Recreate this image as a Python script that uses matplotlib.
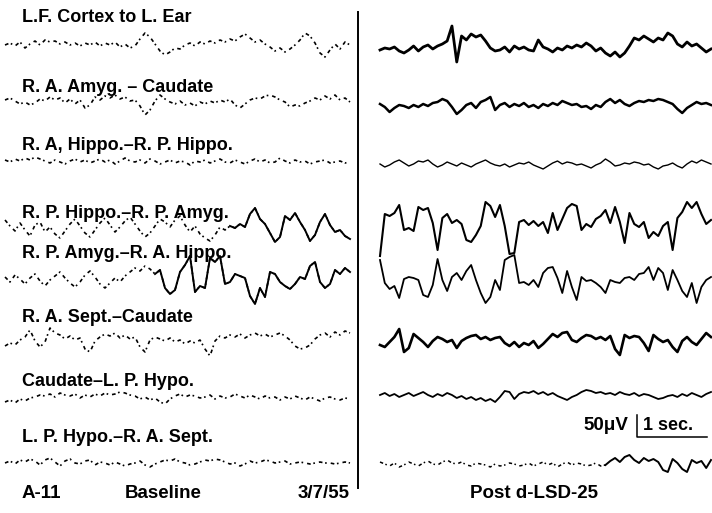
import numpy as np
import matplotlib
matplotlib.use("Agg")
import matplotlib.pyplot as plt

# ---- channel labels ----
channels = [
    "L.F. Cortex to L. Ear",
    "R. A. Amyg. \u2013 Caudate",
    "R. A, Hippo.\u2013R. P. Hippo.",
    "R. P. Hippo.\u2013R. P. Amyg.",
    "R. P. Amyg.\u2013R. A. Hippo.",
    "R. A. Sept.\u2013Caudate",
    "Caudate\u2013L. P. Hypo.",
    "L. P. Hypo.\u2013R. A. Sept.",
]
panel_titles = ["Baseline", "Post d-LSD-25"]
animal = "A-11"
date = "3/7/55"
scale_amp = "50\u03bcV"
scale_time = "1 sec."

# ---- baseline traces (deflection, up positive) ----
base_1 = [0, 2, -1, 3, -3, 1, 4, 0, 5, 3, 4, 1, 3, 0, 2, -1, 2, 0, 3, -1, 2, 0, 3, -2, 1, -3, -1, 6, 12, 8,
          1, -6, -10, -7, -3, -4, 0, 2, -1, 3, 1, 4, 2, 5, 3, 6, 4, 8, 11, 7, 3, 5, 1, -2, -6, -3, -7, -4, 0, 5,
          12, 9, 2, -8, -12, -5, 1, -4, 3, 0]
base_2 = [3, 5, 2, -1, 1, -2, 0, 4, 2, 6, 3, 5, 0, 4, -1, 3, -5, -2, 6, 3, 7, 5, 8, 4, 6, 2, 3, -3, -12, -7,
          2, 8, 4, 1, -1, 2, -2, 0, -3, 1, -1, 2, 0, 3, 1, 4, -2, -5, -1, 3, 5, 4, 7, 8, 6, 3, 1, -4, -2, -3,
          0, 2, 5, 3, 7, 4, 8, 3, 5, 1]
base_3 = [2, 0, 3, 1, 4, 2, 5, 3, 1, -1, 2, 0, -2, 1, 3, 0, 2, -1, 1, 3, 0, 2, -2, 1, 4, 1, 0, 2, -1, 3,
          1, -2, 0, 2, -1, 1, 0, -3, 1, 0, 2, -1, 1, 3, 0, -1, 2, 0, -2, 1, 3, 0, 2, -1, 0, 4, 1, -1, 2, 0,
          1, -2, 0, 1, 2, -1, 0, 1, -1, 0]
base_4 = [8, 2, -3, 5, -2, -8, 3, 6, -4, 1, -6, -10, -3, 4, 9, 2, -5, -9, -2, 5, 10, 3, -4, 1, 7, 11, 4, -3, -9, -5,
          2, 9, 6, 1, 8, 12, 3, -4, 2, -6, -10, -13, -7, 1, -2, 2, 0, 4, 1, 14, 20, 9, 4, -5, -14, -9, 12, 8, 15, 6,
          -2, -13, -7, 6, 14, 3, -4, -2, -8, -11]
base_5 = [3, -2, 5, 1, -4, 2, 6, -1, -6, 0, 4, 8, 2, -3, -7, -2, 5, 9, 3, -4, -8, -3, 2, -2, 4, 8, 12, 9, 14, 11,
          6, 10, -8, -14, -10, 8, 15, 24, -12, -6, -8, 22, 18, 24, -4, -2, 6, 4, 2, -16, -24, -8, -17, 8, 6, -2, -6, -9, -4, 3,
          1, 14, 18, -2, -8, -4, 10, 6, 12, 8]
base_6 = [-3, 0, -2, 3, 6, 13, 2, -4, 1, 15, 10, 8, 4, 7, 3, 5, -6, -9, 2, 6, 9, 7, 10, 5, 8, 4, 6, -4, -9, 3,
          6, 4, 2, 5, 1, 3, -1, 2, 0, 3, -6, -13, 2, 7, 5, 8, 6, 9, 5, 8, 10, 7, 9, 6, 8, 10, 7, 3, -3, -6,
          -5, -2, 4, 8, 10, 6, 11, 8, 12, 10]
base_7 = [-5, -3, -6, -2, -4, -1, 0, 2, 1, 3, 0, 4, 2, 1, 3, -1, 2, 0, 3, 1, 4, 2, 3, 5, 4, 2, 1, -2, 0, -3,
          -1, -5, -7, -2, 1, 3, 0, 2, 1, -1, 0, 2, -2, 1, -1, 0, 3, 1, -1, 2, 0, -2, 1, -1, 0, -3, 0, -2, 1, -1,
          -3, 0, -2, -4, -1, 0, -2, -3, -1, -2]
base_8 = [0, 2, -1, 3, 1, 4, 2, -2, 3, 5, 1, -3, 2, 4, 0, -1, 2, 3, -2, 1, 0, -2, 1, -1, -3, -1, 0, 2, -2, -4,
          -1, 1, 3, 2, 4, 1, 0, -2, -1, 1, 3, 2, 4, 3, 1, -1, 0, -3, -1, 2, 0, 1, 3, 2, 0, 1, 2, -1, 0, 1,
          0, -1, 0, 1, 0, 0, -1, 0, 1, 0]

# ---- post-LSD traces ----
post_1 = [0, 2, 1, 3, -1, -3, 0, 4, -1, 3, 5, 1, 4, 6, 9, 24, -12, 14, 10, 16, 13, 15, 9, 2, -1, 0, 3, -2, 4, 1,
          3, 0, -1, 10, 3, 1, -2, 2, 0, 4, 2, 5, 3, 7, 4, -1, 2, -3, -6, -2, -7, -3, 4, 12, 10, 14, 11, 8, 12, 10,
          17, 14, 6, 3, 8, 4, 6, 2, -2, 1]
post_2 = [2, -1, -6, -2, 1, 0, -2, 1, -1, 2, 0, 3, 4, 7, 5, -1, -8, -4, 1, 3, -2, 4, 6, 9, -4, 1, 3, -1, 2, 0,
          3, -1, 1, -2, 2, 0, 3, 1, 5, 3, 1, 2, -1, 0, -3, 1, -1, 4, 7, 3, 6, 2, 0, 3, 5, 4, 6, 5, 7, 6,
          4, 2, -3, -7, -2, 1, 4, 2, 3, 1]
post_3 = [1, -2, 0, 3, 5, 2, -1, 1, 4, 3, 5, 1, -2, 0, 3, 1, -1, 2, 0, -2, 1, 3, 5, 2, 0, -1, 1, -2, 0, 2,
          1, 3, 0, -2, -4, -1, 2, 4, 1, 3, 2, 0, 1, -1, -3, 0, 2, 6, 3, -1, 0, 2, 1, 3, 2, 0, 1, -2, -4, -1,
          0, 2, -1, -3, 1, 4, 2, 5, 3, 1]
post_4 = [-28, 14, 12, 15, 23, -2, 0, -3, 21, 18, 20, 5, -22, 10, 14, 5, 8, 4, -12, -14, -7, 2, 26, 22, 11, 23, 2, -26, -25, 6,
          8, 3, 7, 2, 6, -5, 15, -2, 9, 20, 24, 22, -2, 4, 1, 9, 12, 18, 5, 21, 6, -15, 15, 4, 1, 6, -10, -4, -8, 2,
          6, -22, 10, 16, 26, 20, 26, 14, 4, 8]
post_5 = [23, 0, -6, -3, -15, 4, 6, 5, 3, -12, -14, -2, 24, 3, -8, 6, 10, 3, 12, 18, 3, -10, -20, -14, 3, -7, 23, 26, 28, 0,
          1, -2, 3, -4, 10, 15, 16, 5, -10, 12, -4, -17, 6, 2, 3, 0, -4, -10, 3, 1, 0, 5, 6, 3, 9, 10, 16, 3, 15, 10,
          -7, 13, 3, -8, -14, 0, -20, -4, 3, 6]
post_6 = [0, -2, 3, 8, 16, -7, -3, 11, 7, 3, -2, 4, 8, 6, 3, 5, -3, 4, 7, 9, 10, 6, 8, 5, 7, 8, 2, -1, 3, -2,
          2, 0, 4, -3, 1, 6, 11, 8, 12, 13, 5, 3, 7, 10, 9, 6, 8, 5, 9, -4, -10, 10, 7, 9, 8, 2, -6, 10, 6, 3,
          5, -2, -7, 4, 8, 3, 0, 6, 12, 8]
post_7 = [1, 3, 0, 2, -1, 1, 3, 0, 2, 4, 1, -1, 2, 0, 3, 1, -2, 0, -3, -1, -4, -2, -5, -3, -6, -1, 5, 4, -3, 2,
          4, 3, 5, 2, 4, 1, 3, 0, -2, -4, -1, 1, 4, 6, 5, 3, 4, 2, 3, 1, 4, 2, 1, 3, 0, 2, 1, -1, -3, -2,
          0, 1, -1, 2, 0, 3, 1, -1, 2, 4]
post_8 = [3, 1, -1, 2, -2, 0, 3, 1, -1, 2, 4, 1, 0, 3, 5, 2, 1, 3, 0, -1, 2, 1, 0, -2, 1, -1, 0, 2, 1, -1,
          0, 2, -1, 1, 3, 0, 2, -2, 1, 3, 0, 2, 1, -1, 0, 2, -1, 0, 4, 7, 3, 8, 10, 5, 2, 7, 4, 6, 3, -5,
          -7, 6, 2, -4, -7, 5, 2, 4, -3, 5]

baseline_traces = [base_1, base_2, base_3, base_4, base_5, base_6, base_7, base_8]
post_traces = [post_1, post_2, post_3, post_4, post_5, post_6, post_7, post_8]

# ---- layout (pixel coordinates, y downward) ----
W, H = 712, 513
label_y = [18, 87, 145, 214, 254, 318, 381, 438]
left_y0 = [45, 103, 162, 228, 280, 343, 397, 463]
right_y0 = [50, 106, 165, 228, 283, 345, 396, 465]
left_x = (5, 350)
right_x = (380, 711)
left_solid_from = [None, None, None, 45, 30, None, None, None]
right_faint_to = [None, None, None, None, None, None, None, 47]
right_lw = [2.0, 1.8, 1.0, 1.5, 1.3, 1.9, 1.3, 1.4]

fig = plt.figure(figsize=(W / 100, H / 100), dpi=100)
ax = fig.add_axes([0, 0, 1, 1])
ax.set_xlim(0, W)
ax.set_ylim(H, 0)
ax.axis("off")

font = "Liberation Sans"
dotted = (0, (2.2, 1.6, 1.0, 2.4))

for k in range(8):
    v = np.asarray(baseline_traces[k], dtype=float)
    x = np.linspace(left_x[0], left_x[1], len(v))
    y = left_y0[k] - v
    ax.plot(x, y, color="black", lw=1.2, linestyle=dotted)
    s = left_solid_from[k]
    if s is not None:
        ax.plot(x[s:], y[s:], color="black", lw=1.4)

    v = np.asarray(post_traces[k], dtype=float)
    x = np.linspace(right_x[0], right_x[1], len(v))
    y = right_y0[k] - v
    f = right_faint_to[k]
    if f is not None:
        ax.plot(x[:f + 1], y[:f + 1], color="black", lw=1.1, linestyle=dotted)
        ax.plot(x[f:], y[f:], color="black", lw=right_lw[k])
    else:
        ax.plot(x, y, color="black", lw=right_lw[k])

    ax.text(22, label_y[k], channels[k], fontsize=13, fontweight="bold", family=font,
            ha="left", va="center")

# divider
ax.plot([358, 358], [12, 488], color="black", lw=1.4)

# scale bar
ax.plot([637, 637, 707], [415, 437, 437], color="black", lw=1.1)
ax.text(583, 425, scale_amp, fontsize=13.5, fontweight="bold", family=font, ha="left", va="center")
ax.text(643, 425, scale_time, fontsize=13, fontweight="bold", family=font, ha="left", va="center")

# bottom captions
for xx, s, ha in [(22, animal, "left"), (125, panel_titles[0], "left"),
                  (350, date, "right"), (470, panel_titles[1], "left")]:
    ax.text(xx, 494, s, fontsize=13.5, fontweight="bold", family=font, ha=ha, va="center")

fig.savefig("out.png", dpi=100)
